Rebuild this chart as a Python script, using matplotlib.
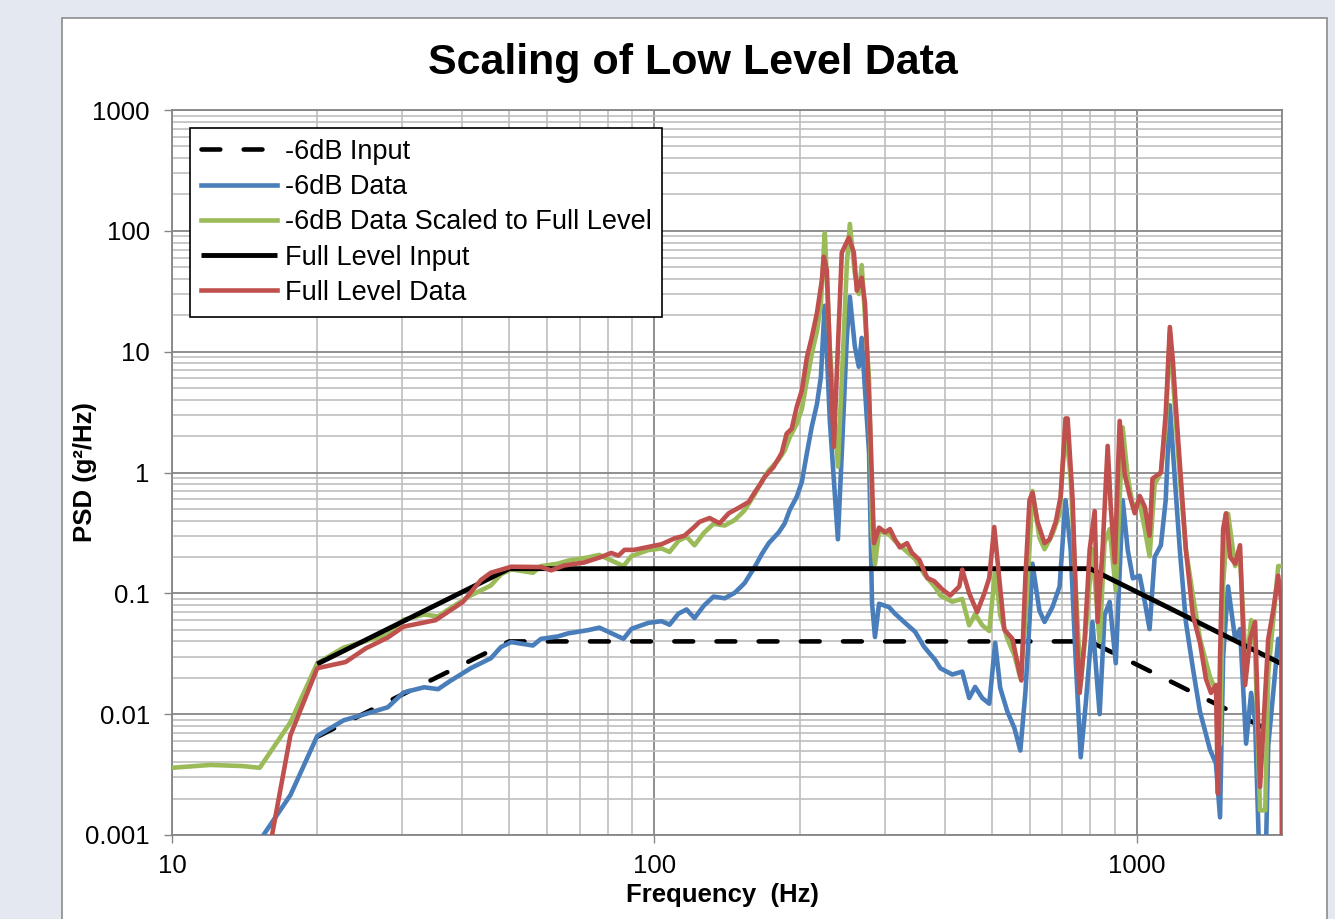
import numpy as np
import matplotlib
matplotlib.use('Agg')
import matplotlib.pyplot as plt
from matplotlib.ticker import LogLocator, FixedLocator, NullFormatter
from matplotlib.patches import Rectangle

# Perfiles de entrada (Hz, g^2/Hz)
input_f = [20, 50, 800, 2000]
full_input_psd = [0.026, 0.16, 0.16, 0.026]
low_input_psd = [0.0065, 0.04, 0.04, 0.0065]

# Datos a nivel completo
full_f = [15.2, 17.6, 20.0, 22.9, 25.2, 28.0, 30.2, 35.2, 40.1, 43.7,
          45.8, 50.5, 58.2, 61.1, 65.0, 71.5, 77.6, 81.4, 84.2, 86.7,
          90.8, 98.6, 103.5, 110.1, 115.4, 120.6, 124.0, 130.1, 136.5, 142.6,
          149.5, 156.8, 162.0, 166.8, 169.3, 176.6, 183.6, 188.0, 192.6, 197.3,
          202.2, 207.1, 212.0, 217.3, 222.4, 224.5, 227.8, 231.0, 235.5, 244.6,
          253.0, 259.1, 262.8, 269.0, 273.3, 279.9, 285.3, 292.2, 300.7, 307.9,
          315.2, 322.7, 334.0, 342.0, 354.0, 367.9, 380.4, 395.0, 410.5, 428.6,
          434.7, 449.3, 466.8, 483.0, 494.5, 506.4, 518.5, 531.4, 552.5, 571.2,
          576.4, 587.5, 599.2, 607.8, 622.7, 643.9, 659.5, 679.2, 695.1, 711.7,
          718.9, 736.3, 754.3, 761.5, 779.8, 798.5, 817.9, 829.4, 849.3, 870.2,
          883.1, 900.4, 921.6, 944.2, 966.9, 990.1, 1014, 1039, 1063, 1078,
          1122, 1148, 1171, 1188, 1205, 1234, 1264, 1307, 1352, 1391,
          1425, 1459, 1473, 1488, 1510, 1531, 1561, 1599, 1637, 1677,
          1718, 1759, 1801, 1846, 1873, 1918, 1964, 1993, 2000]
full_psd = [0.00028, 0.0067, 0.024, 0.027, 0.035, 0.043, 0.053, 0.060, 0.085, 0.129,
            0.148, 0.166, 0.165, 0.155, 0.170, 0.180, 0.200, 0.216, 0.205, 0.229,
            0.229, 0.245, 0.255, 0.285, 0.300, 0.350, 0.390, 0.420, 0.380, 0.460,
            0.510, 0.570, 0.700, 0.830, 0.920, 1.11, 1.45, 2.1, 2.3, 3.5,
            4.8, 9.0, 13.2, 21.0, 39.0, 61.0, 47.0, 9.8, 1.63, 66.0,
            88.0, 66.0, 32.0, 41.0, 25.0, 2.7, 0.26, 0.35, 0.32, 0.34,
            0.28, 0.24, 0.26, 0.216, 0.19, 0.134, 0.126, 0.108, 0.096, 0.114,
            0.157, 0.100, 0.070, 0.100, 0.134, 0.354, 0.134, 0.050, 0.042, 0.022,
            0.019, 0.134, 0.59, 0.68, 0.39, 0.26, 0.28, 0.39, 0.63, 2.8,
            2.8, 0.59, 0.030, 0.015, 0.042, 0.229, 0.48, 0.058, 0.229, 1.66,
            0.52, 0.18, 2.67, 0.96, 0.64, 0.46, 0.64, 0.52, 0.30, 0.89,
            1.0, 3.05, 16.0, 8.4, 3.5, 0.89, 0.229, 0.066, 0.039, 0.0196,
            0.015, 0.0174, 0.0022, 0.030, 0.34, 0.46, 0.20, 0.176, 0.25, 0.0174,
            0.042, 0.058, 0.0025, 0.015, 0.042, 0.072, 0.14, 0.085, 0.0003]

# Datos a -6dB
low_f = [10.0, 12.0, 14.0, 15.2, 17.6, 20.0, 22.7, 24.9, 28.0, 30.2,
         33.3, 35.6, 37.8, 41.7, 45.8, 48.1, 50.5, 56.0, 58.2, 63.1,
         66.2, 72.9, 76.9, 82.2, 86.3, 89.6, 97.2, 103.5, 107.5, 112.2,
         116.6, 121.1, 126.6, 132.6, 139.9, 146.7, 151.7, 153.9, 161.4, 164.5,
         166.8, 172.6, 181.1, 186.3, 190.8, 197.3, 202.2, 207.1, 212.0, 217.3,
         221.4, 224.5, 225.6, 231.0, 240.1, 244.6, 250.6, 254.2, 260.3, 265.3,
         269.0, 278.6, 282.6, 286.6, 292.2, 306.4, 315.2, 330.8, 347.2, 362.5,
         382.2, 391.5, 414.4, 434.7, 449.3, 462.3, 478.3, 494.5, 508.8, 521.0,
         539.2, 557.4, 573.6, 587.5, 599.2, 607.8, 628.2, 643.9, 668.7, 691.8,
         711.7, 729.3, 746.5, 765.2, 783.5, 809.2, 837.5, 857.4, 878.6, 904.6,
         935.0, 957.7, 981.4, 1014, 1039, 1063, 1089, 1122, 1148, 1171,
         1199, 1228, 1264, 1307, 1352, 1418, 1459, 1488, 1510, 1546,
         1599, 1637, 1685, 1726, 1759, 1801, 1846, 1873, 1918, 1964,
         2000]
low_psd = [0.00090, 0.00095, 0.00093, 0.00090, 0.00214, 0.0066, 0.0089, 0.0099, 0.0114, 0.0151,
           0.0167, 0.0161, 0.0189, 0.0241, 0.029, 0.036, 0.0395, 0.037, 0.042, 0.044,
           0.0466, 0.0496, 0.052, 0.046, 0.042, 0.0508, 0.057, 0.0588, 0.055, 0.068,
           0.0735, 0.0624, 0.079, 0.094, 0.091, 0.101, 0.115, 0.122, 0.165, 0.19,
           0.21, 0.26, 0.32, 0.38, 0.49, 0.63, 0.84, 1.45, 2.4, 3.7,
           6.2, 18.0, 24.0, 2.7, 0.28, 1.45, 13.2, 28.5, 11.1, 7.5,
           13.0, 1.45, 0.083, 0.0435, 0.082, 0.077, 0.068, 0.057, 0.048, 0.036,
           0.028, 0.024, 0.0213, 0.0225, 0.0136, 0.0168, 0.0136, 0.0122, 0.039, 0.0165,
           0.0105, 0.0077, 0.0050, 0.015, 0.058, 0.176, 0.072, 0.058, 0.077, 0.114,
           0.59, 0.229, 0.030, 0.0044, 0.012, 0.058, 0.0100, 0.066, 0.085, 0.0264,
           0.59, 0.229, 0.133, 0.14, 0.085, 0.0506, 0.20, 0.25, 0.59, 3.6,
           0.89, 0.229, 0.058, 0.024, 0.0105, 0.0051, 0.0039, 0.0014, 0.0297, 0.114,
           0.042, 0.0506, 0.0057, 0.015, 0.0088, 0.0004, 0.0004, 0.0055, 0.015, 0.042,
           0.042]

# -6dB -> nivel completo (factor 4 en PSD)
SCALE_6DB = 4.0
scaled_psd = [v * SCALE_6DB for v in low_psd]

x_ticks = [10, 100, 1000]
x_labels = ['10', '100', '1000']
y_ticks = [0.001, 0.01, 0.1, 1, 10, 100, 1000]
y_labels = ['0.001', '0.01', '0.1', '1', '10', '100', '1000']

plt.rcParams['font.family'] = ['Liberation Sans', 'DejaVu Sans']

W, H = 1335, 919
fig = plt.figure(figsize=(W / 100, H / 100), dpi=100, facecolor='#E4E8F0')
fig.patches.append(Rectangle((62 / W, -0.01), (1327 - 62) / W, 1 - 18 / H + 0.01,
                             transform=fig.transFigure, facecolor='white',
                             edgecolor='#8C8C8C', lw=1.2, zorder=-10))

ax = fig.add_axes([172 / W, 1 - 835 / H, 1110 / W, 725 / H])
ax.set_xscale('log')
ax.set_yscale('log')

lw_data = 3.3
ax.plot(input_f, low_input_psd, color='black', lw=3.3, linestyle=(0, (4.1, 5.1)),
        dash_capstyle='round', label='-6dB Input', zorder=2)
ax.plot(low_f, low_psd, color='#4A7EBB', lw=lw_data, solid_joinstyle='round',
        label='-6dB Data', zorder=3)
ax.plot(low_f, scaled_psd, color='#9BBB59', lw=lw_data, solid_joinstyle='round',
        label='-6dB Data Scaled to Full Level', zorder=4)
ax.plot(input_f, full_input_psd, color='black', lw=3.5, solid_capstyle='butt',
        label='Full Level Input', zorder=5)
ax.plot(full_f, full_psd, color='#C0504D', lw=lw_data, solid_joinstyle='round',
        label='Full Level Data', zorder=6)

ax.set_xlim(10, 2000)
ax.set_ylim(0.001, 1000)

ax.xaxis.set_major_locator(FixedLocator(x_ticks))
ax.set_xticklabels(x_labels)
ax.yaxis.set_major_locator(FixedLocator(y_ticks))
ax.set_yticklabels(y_labels)
ax.xaxis.set_minor_locator(LogLocator(base=10, subs=np.arange(2, 10), numticks=20))
ax.yaxis.set_minor_locator(LogLocator(base=10, subs=np.arange(2, 10), numticks=20))
ax.xaxis.set_minor_formatter(NullFormatter())
ax.yaxis.set_minor_formatter(NullFormatter())

ax.set_axisbelow(True)
ax.grid(which='major', color='#868686', lw=1.3)
ax.grid(which='minor', color='#BFBFBF', lw=1.2)
ax.tick_params(which='major', length=6, width=1, color='#868686', labelsize=18.5,
               direction='out')
ax.tick_params(axis='x', which='major', pad=8)
ax.tick_params(axis='y', which='major', pad=10)
ax.tick_params(which='minor', length=0)
for s in ax.spines.values():
    s.set_color('#868686')
    s.set_linewidth(1.3)

leg = ax.legend(loc='upper left', bbox_to_anchor=(0.0162, 0.975), borderaxespad=0,
                fontsize=19.5, handlelength=2.8, handletextpad=0.3, labelspacing=0.34,
                borderpad=0.4, frameon=True, fancybox=False, edgecolor='black',
                framealpha=1)
leg.get_frame().set_linewidth(1.2)

fig.text(693 / W, 1 - 63 / H, 'Scaling of Low Level Data', ha='center', va='center',
         fontsize=31, fontweight='bold')
fig.text(722 / W, 1 - 895 / H, 'Frequency  (Hz)', ha='center', va='center',
         fontsize=18.5, fontweight='bold')
fig.text(85 / W, 1 - 472 / H, 'PSD (g²/Hz)', ha='center', va='center',
         rotation=90, fontsize=18.5, fontweight='bold')

fig.savefig('out.png', dpi=100, facecolor=fig.get_facecolor())
